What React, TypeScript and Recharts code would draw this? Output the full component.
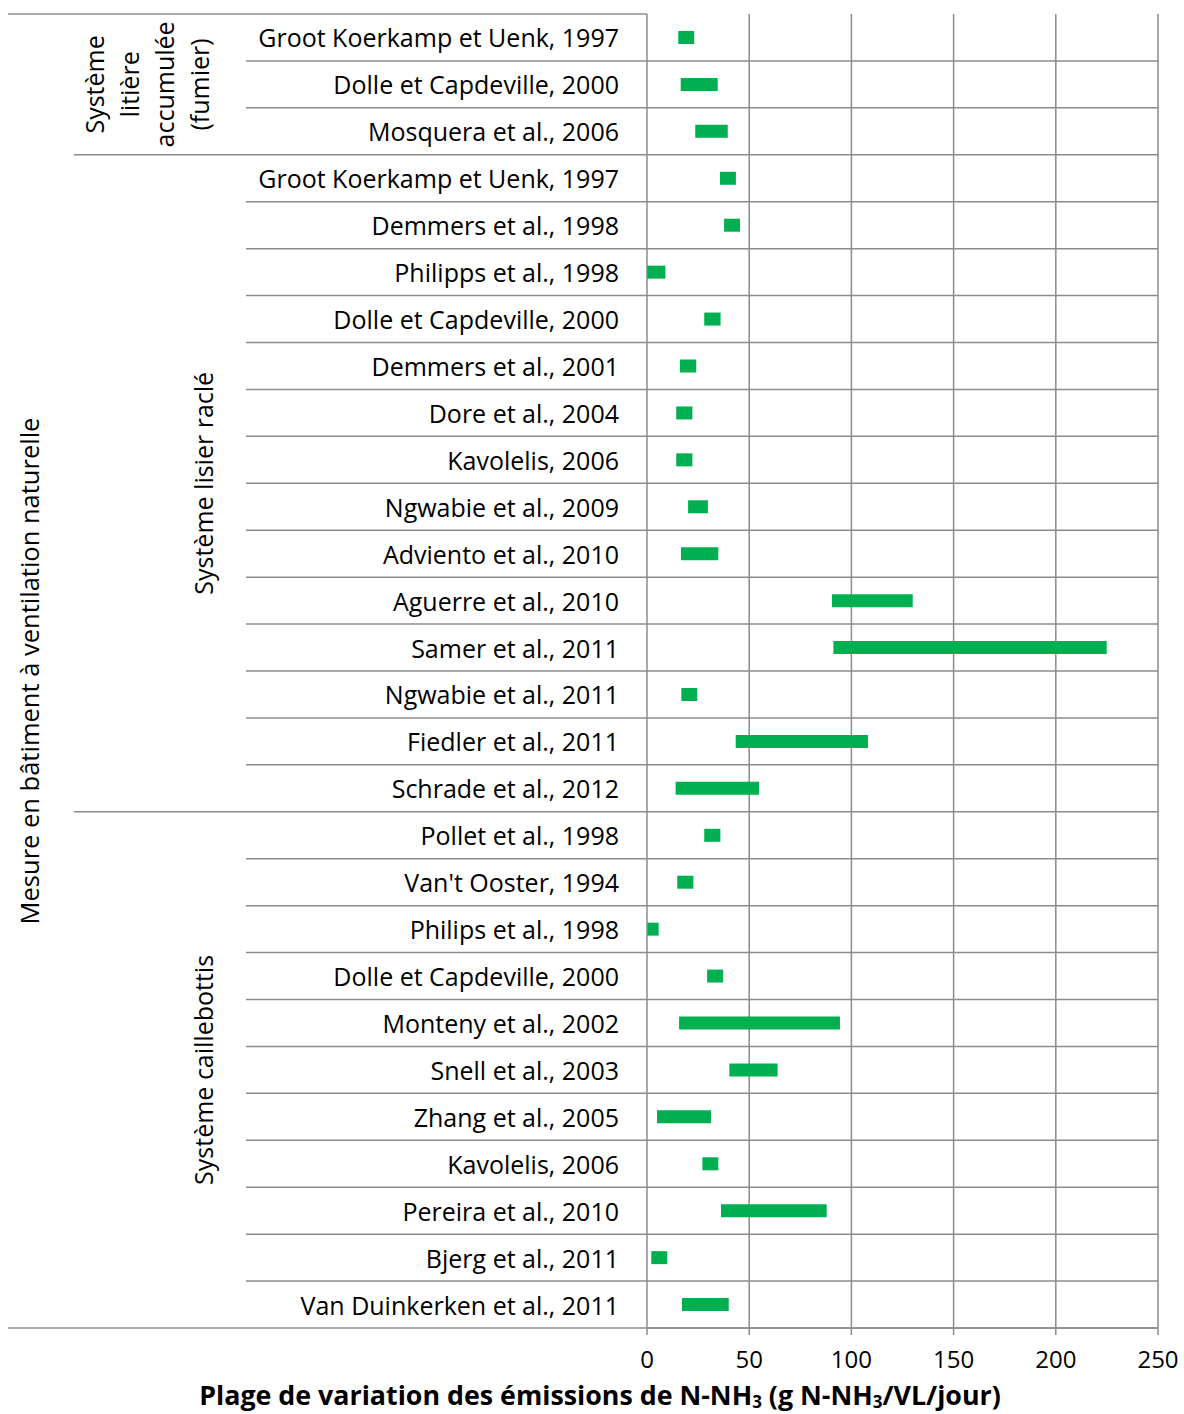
import React from 'react';
import { BarChart, Bar, XAxis, YAxis, CartesianGrid } from 'recharts';

const categories = [
  'Groot Koerkamp et Uenk, 1997',
  'Dolle et Capdeville, 2000',
  'Mosquera et al., 2006',
  'Groot Koerkamp et Uenk, 1997',
  'Demmers et al., 1998',
  'Philipps et al., 1998',
  'Dolle et Capdeville, 2000',
  'Demmers et al., 2001',
  'Dore et al., 2004',
  'Kavolelis, 2006',
  'Ngwabie et al., 2009',
  'Adviento et al., 2010',
  'Aguerre et al., 2010',
  'Samer et al., 2011',
  'Ngwabie et al., 2011',
  'Fiedler et al., 2011',
  'Schrade et al., 2012',
  'Pollet et al., 1998',
  "Van't Ooster, 1994",
  'Philips et al., 1998',
  'Dolle et Capdeville, 2000',
  'Monteny et al., 2002',
  'Snell et al., 2003',
  'Zhang et al., 2005',
  'Kavolelis, 2006',
  'Pereira et al., 2010',
  'Bjerg et al., 2011',
  'Van Duinkerken et al., 2011',
];

const lowValues = [
  15.3, 16.5, 23.6, 35.7, 37.7, 0.1, 28.0, 16.1, 14.3, 14.3, 20.1, 16.6, 90.5, 91.2,
  16.8, 43.4, 14.0, 28.0, 14.8, 0.2, 29.4, 15.7, 40.3, 4.9, 27.1, 36.2, 2.1, 17.1,
];

const highValues = [
  23.1, 34.6, 39.5, 43.5, 45.5, 9.0, 36.0, 24.1, 22.2, 22.2, 29.8, 34.9, 130.0, 224.9,
  24.6, 108.1, 54.8, 35.9, 22.7, 5.7, 37.2, 94.4, 63.9, 31.3, 34.9, 87.9, 9.9, 40.0,
];

const groupLabels = [
  ['Système', 'litière', 'accumulée', '(fumier)'],
  ['Système lisier raclé'],
  ['Système caillebottis'],
];
const groupSizes = [3, 14, 11];
const outerLabel = 'Mesure en bâtiment à ventilation naturelle';
const xTicks = [0, 50, 100, 150, 200, 250];

const data = categories.map((name, i) => ({
  key: `${i}`,
  name,
  range: [lowValues[i], highValues[i]],
}));

const W = 1184;
const H = 1414;
const X_AXIS_H = 40;
const MARGIN = { top: 14, right: 26, bottom: 46, left: 0 };
const Y_AXIS_W = 647;
const PLOT_H = H - MARGIN.top - MARGIN.bottom - X_AXIS_H;
const ROW_H = PLOT_H / categories.length;
const LINE = '#8c8c8c';
const FONT = '"Open Sans", sans-serif';

const groupStart = groupSizes.map((_, g) => groupSizes.slice(0, g).reduce((a, b) => a + b, 0));

const CategoryTick = (props: any) => {
  const { y, index } = props;
  const name = categories[index];
  const top = y - ROW_H / 2;
  const bottom = y + ROW_H / 2;
  const g = groupStart.findIndex((s, k) => index >= s && index < s + groupSizes[k]);
  const isGroupEnd = index === groupStart[g] + groupSizes[g] - 1;
  const isLast = index === categories.length - 1;
  const lineStart = isLast ? 8 : isGroupEnd ? 74 : 246;
  const parts: React.ReactNode[] = [];

  parts.push(
    <text key="t" x={619} y={y} textAnchor="end" dominantBaseline="central" fontSize={25} fill="#000" fontFamily={FONT}>
      {name}
    </text>
  );
  parts.push(<line key="b" x1={lineStart} x2={Y_AXIS_W} y1={bottom} y2={bottom} stroke={LINE} strokeWidth={1.5} />);
  if (index === 0) {
    parts.push(<line key="top" x1={8} x2={Y_AXIS_W} y1={top} y2={top} stroke={LINE} strokeWidth={1.5} />);
    const midY = top + (categories.length * ROW_H) / 2;
    parts.push(
      <text key="outer" x={39} y={midY} textAnchor="middle" transform={`rotate(-90, 39, ${midY})`} fontSize={25.5} fill="#000" fontFamily={FONT}>
        {outerLabel}
      </text>
    );
  }
  if (index === groupStart[g]) {
    const midY = top + (groupSizes[g] * ROW_H) / 2;
    const lines = groupLabels[g];
    const bx = lines.length > 1 ? 104 : 213;
    parts.push(
      <text key="g" x={bx} y={midY} textAnchor="middle" transform={`rotate(-90, ${bx}, ${midY})`} fontSize={25} fill="#000" fontFamily={FONT}>
        {lines.map((l, k) => (
          <tspan key={k} x={bx} dy={k === 0 ? 0 : 35}>
            {l}
          </tspan>
        ))}
      </text>
    );
  }
  return <g>{parts}</g>;
};

const AxisTitle = () => (
  <text x={600} y={H - 9} textAnchor="middle" fontSize={26.8} fontWeight="bold" fill="#000" fontFamily={FONT}>
    <tspan>Plage de variation des émissions de N-NH</tspan>
    <tspan fontSize={17} dy={3}>3</tspan>
    <tspan dy={-3}> (g N-NH</tspan>
    <tspan fontSize={17} dy={3}>3</tspan>
    <tspan dy={-3}>/VL/jour)</tspan>
  </text>
);

export default function App() {
  return (
    <div style={{ width: W, height: H }}>
      <style>{'body { margin: 0; }'}</style>
      <BarChart width={W} height={H} data={data} layout="vertical" margin={MARGIN} barCategoryGap={0}>
        <CartesianGrid
          stroke={LINE}
          strokeWidth={1.5}
          horizontalCoordinatesGenerator={({ offset }: any) =>
            categories.map((_, i) => offset.top + ((i + 1) * offset.height) / categories.length)
          }
          verticalCoordinatesGenerator={({ offset }: any) =>
            xTicks.map((t) => offset.left + (t / 250) * offset.width)
          }
        />
        <XAxis
          type="number"
          domain={[0, 250]}
          ticks={xTicks}
          interval={0}
          axisLine={{ stroke: LINE, strokeWidth: 1.5 }}
          tickLine={{ stroke: LINE, strokeWidth: 1.5 }}
          tickSize={7}
          tickMargin={16}
          tick={{ fontSize: 24, fill: '#000', fontFamily: FONT }}
          label={<AxisTitle />}
          height={X_AXIS_H}
        />
        <YAxis
          type="category"
          dataKey="key"
          width={Y_AXIS_W}
          axisLine={false}
          tickLine={false}
          interval={0}
          tick={<CategoryTick />}
        />
        <Bar dataKey="range" fill="#00b050" barSize={13} isAnimationActive={false} />
      </BarChart>
    </div>
  );
}
